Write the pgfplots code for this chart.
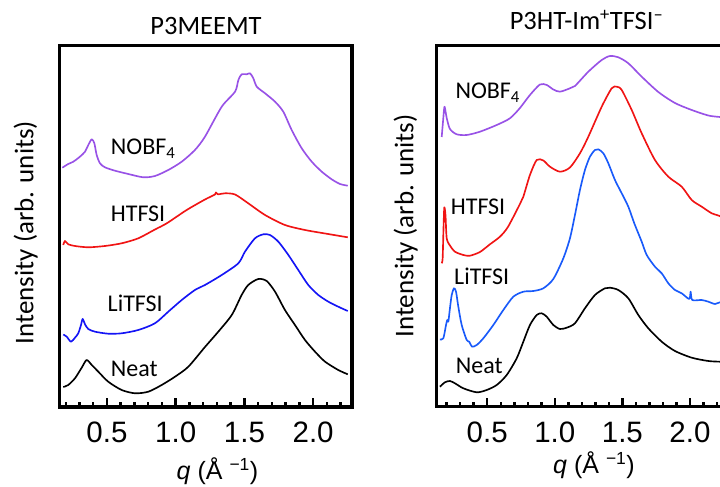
\documentclass[border=0pt]{standalone}
\usepackage{pgfplots}
\pgfplotsset{compat=1.18}
\usepackage{fontspec}
\setmainfont{Carlito}
\newfontfamily\arialf{Liberation Sans}
\definecolor{cpurple}{RGB}{152,82,230}
\definecolor{cred}{RGB}{240,20,20}
\definecolor{cblueL}{RGB}{20,20,245}
\definecolor{cblueR}{RGB}{25,90,250}
\pgfplotsset{
  myaxis/.style={
    scale only axis, anchor=south west,
    ymin=0,
    axis line style={line width=3.3pt},
    ytick=\empty,
    xtick={0.5,1,1.5,2},
    minor xtick={0.2,0.3,0.4,0.5,0.6,0.7,0.8,0.9,1.0,1.1,1.2,1.3,1.4,1.5,1.6,1.7,1.8,1.9,2.0,2.1,2.2,2.3},
    xtick pos=left,
    tick align=inside,
    major tick length=9pt, minor tick length=5pt,
    tick style={line width=2.5pt, black},
    /pgf/number format/fixed,
    /pgf/number format/fixed zerofill,
    /pgf/number format/precision=1,
    /pgf/number format/assume math mode=true,
    xticklabel style={font=\arialf\fontsize{29.5}{30}\selectfont, anchor=base, yshift=-36pt},
  },
  curve/.style={line width=1.65pt, line join=round, smooth, tension=0.45, no markers},
}
\begin{document}
\begin{tikzpicture}
\useasboundingbox (0,0) rectangle (720pt,487pt);
\clip (0,0) rectangle (720pt,487pt);
% ---------------- left panel ----------------
\begin{axis}[myaxis, at={(59.3pt,80pt)}, width=292.7pt, height=361.7pt,
  xmin=0.153, xmax=2.283, ymax=361.7]
\addplot[curve, black] coordinates {
(0.182,20) (0.218,22) (0.267,28.7) (0.316,39.3) (0.352,47) (0.389,42) (0.437,35.3)
(0.509,25.3) (0.607,17) (0.704,13.7) (0.801,15.3) (0.898,22) (0.995,30.3) (1.092,40.3)
(1.213,60) (1.310,75.3) (1.408,92) (1.480,112) (1.528,122) (1.601,128) (1.662,126)
(1.723,115.3) (1.795,97) (1.868,82) (1.941,67) (2.014,55.3) (2.087,45.3) (2.183,37) (2.252,32.7)};
\addplot[curve, cblueL] coordinates {
(0.182,72.5) (0.207,70.3) (0.238,65.3) (0.267,69.3) (0.291,73.7) (0.311,82) (0.323,88)
(0.340,82.7) (0.364,78) (0.413,75.3) (0.509,73.3) (0.607,73.7) (0.728,77) (0.849,83.7)
(0.946,95.3) (1.044,107) (1.140,117) (1.213,122) (1.335,132) (1.456,143.7) (1.504,155.3)
(1.577,168.7) (1.638,172.7) (1.686,172) (1.747,165.3) (1.820,152) (1.892,137) (1.965,122)
(2.038,112) (2.111,105.3) (2.183,100.3) (2.252,96)};
\addplot[curve, cred] coordinates {
(0.182,162) (0.194,166) (0.218,162.7) (0.267,161) (0.364,159.7) (0.485,161) (0.607,163.7)
(0.728,168.7) (0.849,177.5) (0.935,183.7) (1.080,197) (1.213,207.5) (1.286,212.5)
(1.293,214.5) (1.308,212.7) (1.359,213.7) (1.432,212.5) (1.528,203.7) (1.650,192)
(1.795,182) (1.941,177) (2.087,173.5) (2.252,169.7)};
\addplot[curve, cpurple] coordinates {
(0.175,239.3) (0.218,243) (0.255,245.3) (0.303,250.3) (0.340,255.3) (0.364,262) (0.389,267.7)
(0.408,263.7) (0.425,252) (0.449,243.7) (0.485,239.7) (0.558,236.3) (0.655,233) (0.764,229.7)
(0.849,231) (0.946,237) (1.044,245.3) (1.140,257) (1.213,270.3) (1.335,300.3) (1.432,315.3)
(1.456,327) (1.480,332.7) (1.517,332.7) (1.541,333.7) (1.565,328.7) (1.590,320.3) (1.650,313.7)
(1.723,305.3) (1.783,295.3) (1.844,277) (1.917,258.7) (1.990,245.3) (2.063,235.3) (2.135,227.7)
(2.196,223) (2.252,221.3)};
\end{axis}
% ---------------- right panel ----------------
\begin{axis}[myaxis, at={(436.7pt,80.3pt)}, width=299.6pt, height=361pt,
  xmin=0.126, xmax=2.343, ymax=361]
\addplot[curve, black] coordinates {
(0.150,20) (0.187,24.4) (0.224,25.7) (0.261,23.4) (0.323,18.4) (0.422,14.4) (0.496,16.7)
(0.570,21.7) (0.644,31.7) (0.718,48.4) (0.767,65) (0.816,81.7) (0.866,91.7) (0.903,93.4)
(0.940,90) (0.989,81.7) (1.038,77.7) (1.088,79) (1.149,83.4) (1.223,98.4) (1.297,111.7)
(1.371,118.4) (1.408,119) (1.470,116.7) (1.544,108.4) (1.618,91.7) (1.692,78.4) (1.791,65)
(1.889,55.7) (2.013,49) (2.136,45.7) (2.222,45) (2.30,44.8)};
\addplot[curve, cblueR] coordinates {
(0.150,67.2) (0.175,68.4) (0.195,81.7) (0.204,86.7) (0.212,85) (0.224,98.4) (0.237,111.7)
(0.254,118.4) (0.269,115) (0.286,100) (0.311,81.7) (0.348,66.7) (0.367,65) (0.387,60)
(0.422,61.7) (0.471,68.4) (0.545,81.7) (0.619,96.7) (0.693,110) (0.767,115) (0.841,115.7)
(0.915,118.4) (0.989,127.7) (1.063,148.4) (1.112,168.4) (1.149,191.7) (1.186,216.7)
(1.223,236.7) (1.260,250) (1.297,256.7) (1.322,257.4) (1.359,253.4) (1.396,243.4)
(1.445,226.7) (1.495,213.4) (1.544,200) (1.588,183.4) (1.643,165) (1.680,151.7) (1.741,140)
(1.791,133.4) (1.840,123.4) (1.889,116.7) (1.939,113.4) (1.995,107.7) (2.005,115)
(2.017,106.7) (2.087,106.7) (2.136,105) (2.185,102.7) (2.222,104.4) (2.30,104)};
\addplot[curve, cred] coordinates {
(0.163,143.4) (0.170,148.4) (0.176,176.7) (0.182,199.2) (0.191,191.7) (0.200,168.4)
(0.224,161.2) (0.261,155) (0.323,151.7) (0.372,151) (0.446,154.7) (0.520,162.4) (0.594,170)
(0.653,179.7) (0.742,202.7) (0.767,210) (0.816,231.7) (0.866,246.7) (0.915,246.2) (0.964,240)
(1.038,235) (1.112,239.2) (1.186,253.4) (1.248,270) (1.347,300) (1.421,318.4) (1.458,320)
(1.495,316.7) (1.569,296.7) (1.643,273.4) (1.741,246.7) (1.840,230) (1.939,220) (2.013,206.7)
(2.087,200) (2.161,193.4) (2.210,191.2) (2.30,186)};
\addplot[curve, cpurple] coordinates {
(0.163,269.7) (0.175,288.7) (0.184,300) (0.200,288.7) (0.224,277.7) (0.274,272.4) (0.348,271.7)
(0.446,275) (0.570,281.7) (0.668,288.4) (0.742,298.7) (0.816,311.7) (0.890,322.2) (0.940,321.7)
(0.989,317.2) (1.038,315) (1.112,318.4) (1.149,320.7) (1.248,335) (1.347,346.7) (1.408,350.7)
(1.470,349.4) (1.544,343.4) (1.643,330) (1.766,314.7) (1.889,303.7) (2.013,296.7) (2.136,291.2)
(2.222,289.7) (2.30,289)};
\end{axis}
% ---------------- text ----------------
\node[anchor=base, font=\fontsize{26.5}{28}\selectfont] at (206pt,452pt) {P3MEEMT};
\node[anchor=base, font=\fontsize{26.5}{28}\selectfont] at (586.5pt,457.7pt) {P3HT-Im\textsuperscript{+}TFSI\textsuperscript{–}};
\node[rotate=90, anchor=base, font=\fontsize{27}{28}\selectfont] at (33.3pt,254.5pt) {Intensity (arb. units)};
\node[rotate=90, anchor=base, font=\fontsize{27}{28}\selectfont] at (413.3pt,261pt) {Intensity (arb. units)};
\node[anchor=base, font=\arialf\fontsize{25}{26}\selectfont] at (217.5pt,7pt) {\itshape q\upshape\ (Å \textsuperscript{−1})};
\node[anchor=base, font=\arialf\fontsize{25}{26}\selectfont] at (594pt,13pt) {\itshape q\upshape\ (Å \textsuperscript{−1})};
\begin{scope}[every node/.style={anchor=base west, inner sep=0pt, font=\fontsize{24}{26}\selectfont}]
\node at (110.7pt,332pt) {NOBF\textsubscript{4}};
\node at (110.7pt,265.3pt) {HTFSI};
\node at (107.5pt,175.3pt) {LiTFSI};
\node at (110.7pt,110.3pt) {Neat};
\node at (455.3pt,388.7pt) {NOBF\textsubscript{4}};
\node at (450.7pt,272pt) {HTFSI};
\node at (454pt,202pt) {LiTFSI};
\node at (455.7pt,113.7pt) {Neat};
\end{scope}
\end{tikzpicture}
\end{document}
